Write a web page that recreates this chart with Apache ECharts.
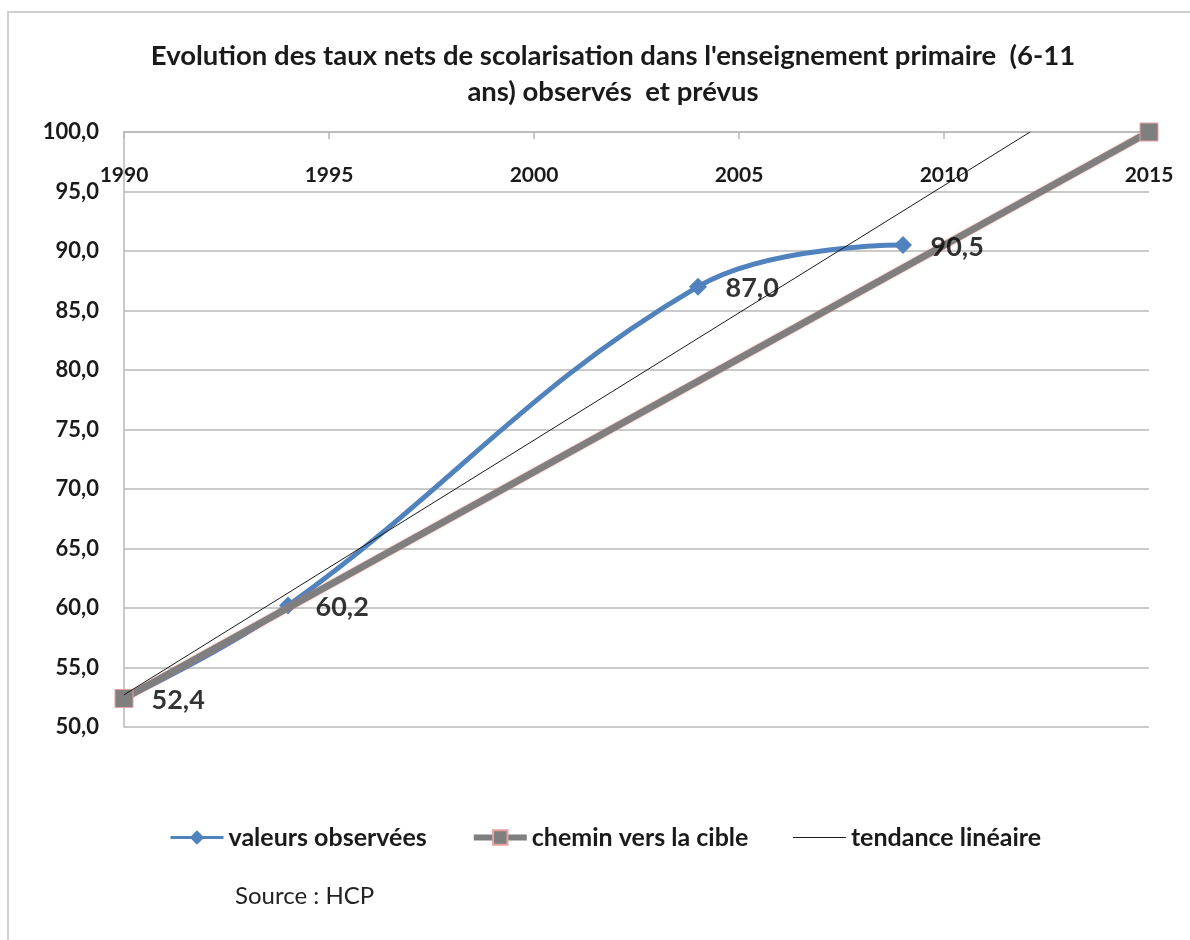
<!DOCTYPE html>
<html><head><meta charset="utf-8">
<script src="https://cdn.jsdelivr.net/npm/echarts@6/dist/echarts.min.js"></script>
<style>html,body{margin:0;padding:0;background:#fff}#c{width:1190px;height:940px}</style>
</head><body><div id="c"></div>
<script>
// ---- data ----
const observedYears = [1990, 1994, 2004, 2009];
const observedValues = [52.4, 60.2, 87.0, 90.5];
const pathYears = [1990, 2015];
const pathValues = [52.4, 100.0];
const trendYears = [1990, 2012.1];
const trendValues = [52.7, 100.0];
const seriesNames = ['valeurs observées', 'chemin vers la cible', 'tendance linéaire'];
const titleLines = ["Evolution des taux nets de scolarisation dans l'enseignement primaire  (6-11", "ans) observés  et prévus"];
const sourceText = 'Source : HCP';

const FONT = 'Lato';
const fmt = v => v.toFixed(1).replace('.', ',');
const pairs = (xs, ys) => xs.map((x, i) => [x, ys[i]]);

const chart = echarts.init(document.getElementById('c'), null, {renderer: 'canvas'});
chart.setOption({
  animation: false,
  backgroundColor: '#fff',
  title: {
    text: titleLines.join('\n'),
    left: 608, top: 33, textAlign: 'center',
    textStyle: {fontFamily: FONT, fontSize: 27.5, fontWeight: 'bold', color: '#1a1a1a', lineHeight: 36}
  },
  graphic: [
    {type: 'rect', shape: {x: 8, y: 12, width: 1400, height: 1000},
     style: {fill: 'none', stroke: '#cfcfcf', lineWidth: 2}, silent: true, z: -1},
    {type: 'text', left: 235, top: 884,
     style: {text: sourceText, fontFamily: FONT, fontSize: 24, fill: '#222'}}
  ],
  legend: {
    data: [
      {name: seriesNames[0], lineStyle: {width: 3}},
      {name: seriesNames[1], lineStyle: {width: 6}},
      {name: seriesNames[2], lineStyle: {width: 1}}
    ],
    top: 820, left: 164,
    itemWidth: 53, itemHeight: 18, itemGap: 44,
    textStyle: {fontFamily: FONT, fontSize: 25, fontWeight: 'bold', color: '#1a1a1a'}
  },
  grid: {left: 124, right: 41, top: 132, bottom: 213, containLabel: false},
  xAxis: {
    type: 'value', position: 'top', min: 1990, max: 2015, interval: 5,
    axisLine: {show: true, lineStyle: {color: '#b8b8b8', width: 1.5}},
    axisTick: {show: true, inside: true, length: 7, lineStyle: {color: '#b8b8b8', width: 1.5}},
    axisLabel: {inside: true, margin: 33, fontFamily: FONT, fontSize: 21, fontWeight: 'bold', color: '#1a1a1a',
                formatter: v => String(v)},
    splitLine: {show: false}
  },
  yAxis: {
    type: 'value', min: 50, max: 100, interval: 5,
    axisLine: {show: true, lineStyle: {color: '#b8b8b8', width: 1.5}},
    axisTick: {show: false},
    axisLabel: {margin: 25, fontFamily: FONT, fontSize: 22, fontWeight: 'bold', color: '#1a1a1a', formatter: fmt},
    splitLine: {show: true, lineStyle: {color: '#b8b8b8', width: 1.5}}
  },
  series: [
    {
      name: seriesNames[0], type: 'line', z: 2,
      data: pairs(observedYears, observedValues),
      smooth: 0.4,
      symbol: 'diamond', symbolSize: 18, showAllSymbol: true,
      lineStyle: {color: '#5082be', width: 5},
      itemStyle: {color: '#5082be'},
      label: {show: false}
    },
    {
      name: seriesNames[1], type: 'line', z: 3,
      data: pairs(pathYears, pathValues),
      symbol: 'rect', symbolSize: 18,
      lineStyle: {color: '#7f7f7f', width: 7, shadowColor: 'rgba(235,110,110,0.75)', shadowBlur: 2},
      itemStyle: {color: '#7f7f7f', borderColor: '#e8a0a0', borderWidth: 1}
    },
    {
      name: seriesNames[2], type: 'line', z: 4,
      data: pairs(trendYears, trendValues),
      symbol: 'none',
      lineStyle: {color: '#1a1a1a', width: 1},
      itemStyle: {color: 'rgba(0,0,0,0)'}
    },
    {
      name: 'labels', type: 'scatter', z: 10, silent: true,
      data: pairs(observedYears, observedValues),
      symbol: 'circle', symbolSize: 1, itemStyle: {color: 'rgba(0,0,0,0)'},
      label: {show: true, position: 'right', distance: 27, offset: [0, 2],
              fontFamily: FONT, fontSize: 27, fontWeight: 'bold', color: '#000',
              formatter: p => fmt(p.value[1])}
    }
  ]
});
</script></body></html>
